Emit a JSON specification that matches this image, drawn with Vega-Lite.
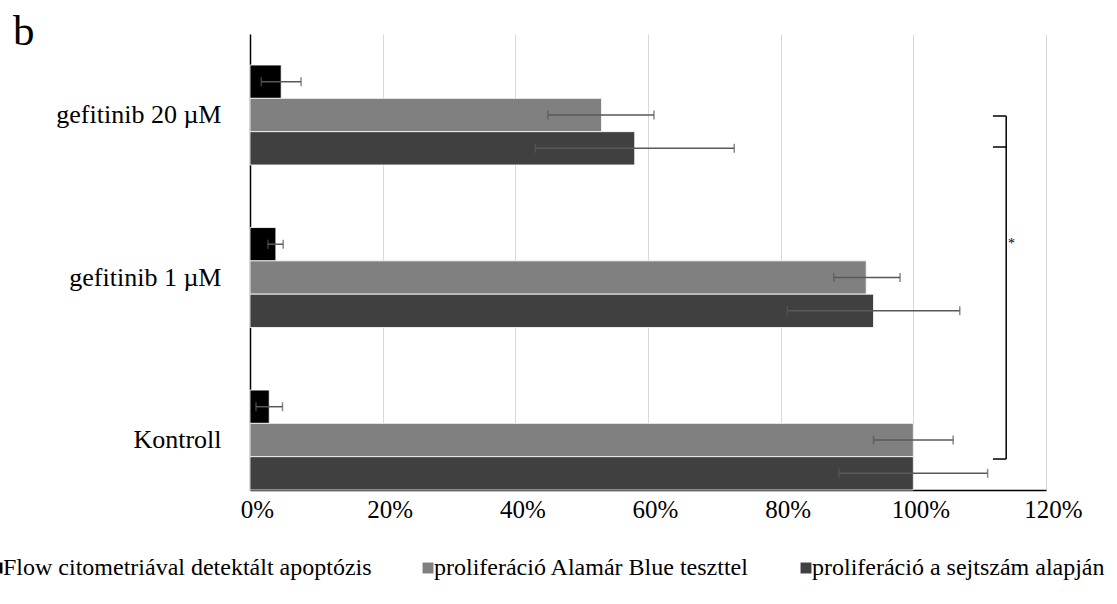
{
  "$schema": "https://vega.github.io/schema/vega-lite/v6.json",
  "width": 796,
  "height": 456,
  "autosize": {"type": "none"},
  "padding": {"left": 250, "top": 34, "right": 71, "bottom": 114},
  "background": "#ffffff",
  "title": {"text": "b", "anchor": "start", "frame": "group", "font": "Liberation Serif", "fontSize": 43, "fontWeight": "normal", "color": "#000000", "dx": -237, "dy": 43, "baseline": "alphabetic", "offset": -11},
  "datasets": {
    "bars": [
      {"cat": "gefitinib 20 µM", "series": "Flow citometriával detektált apoptózis", "value": 0.047, "lo": 0.017, "hi": 0.077},
      {"cat": "gefitinib 20 µM", "series": "proliferáció Alamár Blue teszttel", "value": 0.53, "lo": 0.449, "hi": 0.609},
      {"cat": "gefitinib 20 µM", "series": "proliferáció a sejtszám alapján", "value": 0.58, "lo": 0.43, "hi": 0.73},
      {"cat": "gefitinib 1 µM", "series": "Flow citometriával detektált apoptózis", "value": 0.039, "lo": 0.027, "hi": 0.05},
      {"cat": "gefitinib 1 µM", "series": "proliferáció Alamár Blue teszttel", "value": 0.929, "lo": 0.88, "hi": 0.98},
      {"cat": "gefitinib 1 µM", "series": "proliferáció a sejtszám alapján", "value": 0.94, "lo": 0.81, "hi": 1.07},
      {"cat": "Kontroll", "series": "Flow citometriával detektált apoptózis", "value": 0.029, "lo": 0.009, "hi": 0.049},
      {"cat": "Kontroll", "series": "proliferáció Alamár Blue teszttel", "value": 1.0, "lo": 0.94, "hi": 1.06},
      {"cat": "Kontroll", "series": "proliferáció a sejtszám alapján", "value": 1.0, "lo": 0.888, "hi": 1.112}
    ],
    "bracket": [
      {"part": "vertical", "cat": "gefitinib 20 µM", "cat2": "Kontroll", "x1": 1.14, "x2": 1.14},
      {"part": "top", "cat": "gefitinib 20 µM", "x1": 1.12, "x2": 1.14},
      {"part": "mid", "cat": "gefitinib 20 µM", "x1": 1.12, "x2": 1.14},
      {"part": "bottom", "cat": "Kontroll", "x1": 1.12, "x2": 1.14},
      {"part": "star", "cat": "gefitinib 1 µM", "x1": 1.148, "label": "*"}
    ]
  },
  "layer": [
    {
      "data": {"name": "bars"},
      "mark": {"type": "bar", "stroke": "#ffffff", "strokeWidth": 0.8},
      "encoding": {
        "x": {"field": "value", "type": "quantitative", "scale": {"domain": [0, 1.2], "nice": false},
          "axis": {"format": ".0%", "values": [0, 0.2, 0.4, 0.6, 0.8, 1, 1.2], "title": null, "grid": true, "gridColor": "#d9d9d9", "gridWidth": 1, "domainColor": "#000000", "domainWidth": 1.5, "ticks": false, "labelFont": "Liberation Serif", "labelFontSize": 25, "labelColor": "#000000", "labelPadding": 7, "labelOffset": 7, "labelFlush": false}},
        "y": {"field": "cat", "type": "nominal", "sort": ["gefitinib 20 µM", "gefitinib 1 µM", "Kontroll"],
          "scale": {"domain": ["gefitinib 20 µM", "gefitinib 1 µM", "Kontroll"], "paddingInner": 0.385, "paddingOuter": 0.0955, "align": 1},
          "axis": {"title": null, "ticks": false, "grid": false, "domainColor": "#000000", "domainWidth": 1.5, "labelFont": "Liberation Serif", "labelFontSize": 26, "labelColor": "#000000", "labelPadding": 29, "labelLimit": 300}},
        "yOffset": {"field": "series", "type": "nominal", "sort": ["Flow citometriával detektált apoptózis", "proliferáció Alamár Blue teszttel", "proliferáció a sejtszám alapján"], "scale": {"paddingInner": 0, "paddingOuter": 0}},
        "color": {"field": "series", "type": "nominal", "sort": ["Flow citometriával detektált apoptózis", "proliferáció Alamár Blue teszttel", "proliferáció a sejtszám alapján"],
          "scale": {"domain": ["Flow citometriával detektált apoptózis", "proliferáció Alamár Blue teszttel", "proliferáció a sejtszám alapján"], "range": ["#000000", "#808080", "#404040"]},
          "legend": {"orient": "none", "legendX": -265, "legendY": 522, "direction": "horizontal", "columns": 3, "title": null, "symbolType": "square", "symbolSize": 120, "symbolStrokeWidth": 0, "labelFont": "Liberation Serif", "labelFontSize": 24, "labelColor": "#000000", "columnPadding": 44, "labelOffset": -6, "padding": 0, "labelLimit": 600}}
      }
    },
    {
      "data": {"name": "bars"},
      "mark": {"type": "rule", "color": "#595959", "strokeWidth": 1.5},
      "encoding": {
        "x": {"field": "lo", "type": "quantitative"},
        "x2": {"field": "hi"},
        "y": {"field": "cat", "type": "nominal"},
        "yOffset": {"field": "series", "type": "nominal"}
      }
    },
    {
      "data": {"name": "bars"},
      "mark": {"type": "tick", "color": "#595959", "thickness": 1.5, "size": 9, "orient": "vertical"},
      "encoding": {
        "x": {"field": "lo", "type": "quantitative"},
        "y": {"field": "cat", "type": "nominal"},
        "yOffset": {"field": "series", "type": "nominal"}
      }
    },
    {
      "data": {"name": "bars"},
      "mark": {"type": "tick", "color": "#595959", "thickness": 1.5, "size": 9, "orient": "vertical"},
      "encoding": {
        "x": {"field": "hi", "type": "quantitative"},
        "y": {"field": "cat", "type": "nominal"},
        "yOffset": {"field": "series", "type": "nominal"}
      }
    },
    {
      "data": {"name": "bracket"},
      "transform": [{"filter": "datum.part === 'vertical'"}],
      "mark": {"type": "rule", "color": "#000000", "strokeWidth": 1.5},
      "encoding": {
        "x": {"field": "x1", "type": "quantitative"},
        "y": {"field": "cat", "type": "nominal", "bandPosition": 0.51},
        "y2": {"field": "cat2", "bandPosition": 0.69}
      }
    },
    {
      "data": {"name": "bracket"},
      "transform": [{"filter": "datum.part === 'top'"}],
      "mark": {"type": "rule", "color": "#000000", "strokeWidth": 1.5},
      "encoding": {
        "x": {"field": "x1", "type": "quantitative"},
        "x2": {"field": "x2"},
        "y": {"field": "cat", "type": "nominal", "bandPosition": 0.51}
      }
    },
    {
      "data": {"name": "bracket"},
      "transform": [{"filter": "datum.part === 'mid'"}],
      "mark": {"type": "rule", "color": "#000000", "strokeWidth": 1.5},
      "encoding": {
        "x": {"field": "x1", "type": "quantitative"},
        "x2": {"field": "x2"},
        "y": {"field": "cat", "type": "nominal", "bandPosition": 0.82}
      }
    },
    {
      "data": {"name": "bracket"},
      "transform": [{"filter": "datum.part === 'bottom'"}],
      "mark": {"type": "rule", "color": "#000000", "strokeWidth": 1.5},
      "encoding": {
        "x": {"field": "x1", "type": "quantitative"},
        "x2": {"field": "x2"},
        "y": {"field": "cat", "type": "nominal", "bandPosition": 0.69}
      }
    },
    {
      "data": {"name": "bracket"},
      "transform": [{"filter": "datum.part === 'star'"}],
      "mark": {"type": "text", "color": "#000000", "font": "Liberation Serif", "fontSize": 14, "baseline": "middle", "align": "center"},
      "encoding": {
        "x": {"field": "x1", "type": "quantitative"},
        "y": {"field": "cat", "type": "nominal", "bandPosition": 0.16},
        "text": {"field": "label"}
      }
    }
  ],
  "config": {"view": {"stroke": null}}
}
